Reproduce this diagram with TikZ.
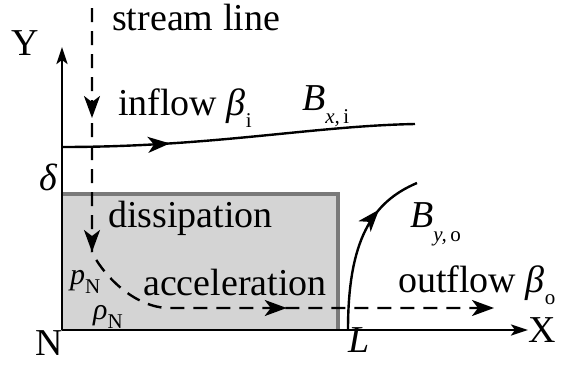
\documentclass[tikz,border=0pt]{standalone}
\usepackage{fontspec}
\setmainfont{Liberation Serif}
\usetikzlibrary{arrows.meta,decorations.markings}

% pedice abbassato
\newcommand{\lowsub}[2][12pt]{\raisebox{-#1}{\fontsize{21}{21}\selectfont #2}}

\begin{document}
\begin{tikzpicture}[
        x=1pt, y=1pt,
        % stili delle linee
        axis/.style={line width=2.4pt, -{Stealth[length=17pt,width=11pt,inset=4pt]}},
        field/.style={line width=2.4pt},
        stream/.style={line width=2.4pt, dash pattern=on 14pt off 9pt},
        endarrow/.style={-{Stealth[length=22pt,width=16pt,inset=6pt]}},
        midarrow/.style={postaction={decorate, decoration={markings,
            mark=at position #1 with {\arrow{Stealth[length=22pt,width=16pt,inset=6pt]}}}}},
        % stili del testo
        lbl/.style={font=\fontsize{38}{40}\selectfont, inner sep=0pt, anchor=base west},
        smalllbl/.style={font=\fontsize{30}{32}\selectfont, inner sep=0pt, anchor=base west},
        % regione di dissipazione
        regionfill/.style={fill=black!17},
        regionedge/.style={draw=black!52, line width=4pt}
    ]

    \useasboundingbox (-62,-38) rectangle (503,330);

    % ==============================
    % 1. REGIONE DI DISSIPAZIONE
    % ==============================
    \coordinate (N) at (0,0);
    \coordinate (Rtop) at (0,136);
    \coordinate (Rcorner) at (276,136);
    \coordinate (Rright) at (276,0);
    \fill[regionfill] (N) rectangle (Rcorner);
    \draw[regionedge] (Rtop) -- (Rcorner) -- (Rright);

    % ==============================
    % 2. ASSI
    % ==============================
    \coordinate (Ytop) at (0,283);
    \coordinate (Xend) at (466,0);
    \draw[axis] (N) -- (Ytop);
    \draw[axis] (N) -- (Xend);

    \node[lbl] (ylab) at (-51,275) {Y};
    \node[lbl] (xlab) at (466,-12) {X};
    \node[lbl] (nlab) at (-27,-25) {N};
    \node[lbl] (llab) at (286,-22) {\itshape L};
    \node[lbl] (dlab) at (-23,140) {\itshape δ};

    % ==============================
    % 3. LINEE DI CAMPO
    % ==============================
    \coordinate (Bx0) at (0,183);
    \coordinate (Bx1) at (353,206);
    \draw[field, midarrow=108pt] (Bx0) .. controls (150,183) and (250,204) .. (Bx1);

    \coordinate (By0) at (286,0);
    \coordinate (By1) at (355,147);
    \draw[field, midarrow=0.73] (By0) .. controls (286,90) and (310,128) .. (By1);

    \node[lbl] (bxlab) at (240,220) {\itshape B\lowsub[13pt]{x,\,\upshape i}};
    \node[lbl] (bylab) at (348,103) {\itshape B\lowsub[14pt]{y,\,\upshape o}};

    % ==============================
    % 4. LINEA DI FLUSSO
    % ==============================
    \coordinate (S0) at (30,322);
    \coordinate (S1) at (30,78);
    \coordinate (S2) at (105,22);
    \coordinate (S3) at (432,22);
    \draw[stream, endarrow, midarrow=110pt, midarrow=244pt, midarrow=0.69]
        (S0) -- (S1) .. controls (38,60) and (68,24) .. (S2) -- (S3);

    % ==============================
    % 5. DIDASCALIE
    % ==============================
    \node[lbl] (streamlab) at (50,300) {stream line};
    \node[lbl] (inflowlab) at (56,215) {inflow {\itshape β}\lowsub{i}};
    \node[lbl] (disslab) at (46,103) {dissipation};
    \node[lbl] (acclab) at (81,35) {acceleration};
    \node[lbl] (outflowlab) at (336,38) {outflow {\itshape β}\lowsub{o}};
    \node[smalllbl] (plab) at (8,46) {\itshape p\lowsub[9pt]{\upshape N}};
    \node[smalllbl] (rholab) at (31,11) {\itshape ρ\lowsub[9pt]{\upshape N}};

\end{tikzpicture}
\end{document}
